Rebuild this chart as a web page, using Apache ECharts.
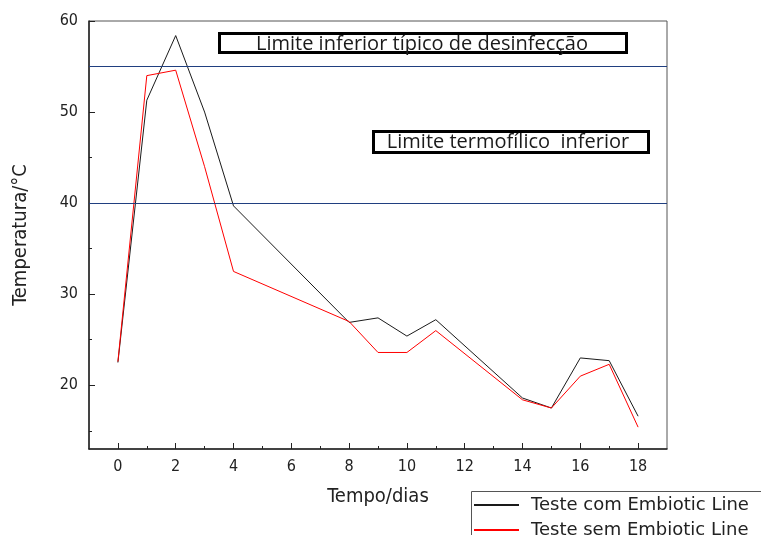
<!DOCTYPE html>
<html>
<head>
<meta charset="utf-8">
<title>Temperatura</title>
<script src="https://cdn.jsdelivr.net/npm/echarts@6/dist/echarts.min.js"></script>
<style>
  html, body { margin: 0; padding: 0; background: #fff; }
  #chart { width: 761px; height: 535px; }
</style>
</head>
<body>
<div id="chart"></div>
<script>
const chart = echarts.init(document.getElementById('chart'))

// dias de medição
const dias = [0, 1, 2, 3, 4, 8, 9, 10, 11, 14, 15, 16, 17, 18]
// temperaturas (°C)
const comEmbiotic = [22.5, 51.3, 58.4, 50.0, 39.7, 26.9, 27.4, 25.4, 27.2, 18.6, 17.5, 23.0, 22.7, 16.6]
const semEmbiotic = [22.6, 54.0, 54.6, 44.0, 32.5, 27.0, 23.6, 23.6, 26.0, 18.4, 17.5, 21.0, 22.3, 15.4]

const serieNames = ['Teste com Embiotic Line', 'Teste sem Embiotic Line']
const limites = [55, 40]
const limiteTextos = ['Limite inferior típico de desinfecção', 'Limite termofílico  inferior']

const xMajor = [0, 2, 4, 6, 8, 10, 12, 14, 16, 18]
const xMinor = [1, 3, 5, 7, 9, 11, 13, 15, 17]
const yMajor = [20, 30, 40, 50, 60]
const yMinor = [15, 25, 35, 45, 55]

const tickFont = { fontFamily: 'DejaVu Sans Condensed', fontSize: 16, color: '#222' }
const nameFont = { fontFamily: 'DejaVu Sans Condensed', fontSize: 20, color: '#222' }
const limiteCor = '#203f80'

const pairs = (vals) => dias.map((d, i) => [d, vals[i]])

// uma legenda por série (empilhadas à mão, a caixa passa da borda da imagem)
const legendBase = {
  orient: 'vertical',
  left: 473,
  padding: 0,
  itemGap: 0,
  itemWidth: 45,
  itemHeight: 12,
  itemStyle: { opacity: 0 },
  textStyle: {
    fontFamily: 'DejaVu Sans', fontSize: 18, color: '#222',
    lineHeight: 14, padding: [0, 0, 0, 7],
  },
}

const option = {
  backgroundColor: '#fff',
  animation: false,
  grid: {
    left: 89, right: 94, top: 21, bottom: 86,
    show: true, borderColor: '#555', borderWidth: 1,
    outerBoundsMode: 'none',
  },
  legend: [
    { ...legendBase, top: 496, data: [serieNames[0]] },
    { ...legendBase, top: 521, data: [serieNames[1]] },
  ],
  xAxis: [
    {
      type: 'value', min: -1, max: 19, position: 'bottom',
      name: 'Tempo/dias', nameLocation: 'middle', nameGap: 38,
      nameTextStyle: nameFont,
      axisLine: { show: true, onZero: false, lineStyle: { color: '#222', width: 1.5 } },
      axisTick: { show: true, inside: true, length: 6, customValues: xMajor, lineStyle: { color: '#222' } },
      axisLabel: { customValues: xMajor, margin: 10, ...tickFont },
      splitLine: { show: false },
    },
    {
      type: 'value', min: -1, max: 19, position: 'bottom',
      axisLine: { show: false, onZero: false },
      axisTick: { show: true, inside: true, length: 3, customValues: xMinor, lineStyle: { color: '#222' } },
      axisLabel: { show: false },
      splitLine: { show: false },
    },
  ],
  yAxis: [
    {
      type: 'value', min: 13, max: 60, position: 'left',
      name: 'Temperatura/°C', nameLocation: 'middle', nameGap: 58, nameRotate: 90,
      nameTextStyle: nameFont,
      axisLine: { show: true, onZero: false, lineStyle: { color: '#222', width: 1.5 } },
      axisTick: { show: true, inside: true, length: 6, customValues: yMajor, lineStyle: { color: '#222' } },
      axisLabel: { customValues: yMajor, margin: 11, ...tickFont },
      splitLine: { show: false },
    },
    {
      type: 'value', min: 13, max: 60, position: 'left',
      axisLine: { show: false, onZero: false },
      axisTick: { show: true, inside: true, length: 3, customValues: yMinor, lineStyle: { color: '#222' } },
      axisLabel: { show: false },
      splitLine: { show: false },
    },
  ],
  series: [
    {
      name: serieNames[0],
      type: 'line',
      data: pairs(comEmbiotic),
      symbol: 'none',
      lineStyle: { color: '#1a1a1a', width: 1 },
      itemStyle: { color: '#1a1a1a' },
      markLine: {
        silent: true,
        symbol: ['none', 'none'],
        label: { show: false },
        lineStyle: { color: limiteCor, type: 'solid', width: 1, opacity: 1 },
        data: limites.map((v) => ({
          yAxis: v,
          lineStyle: { color: limiteCor, width: 1 },
        })),
      },
    },
    {
      name: serieNames[1],
      type: 'line',
      data: pairs(semEmbiotic),
      symbol: 'none',
      lineStyle: { color: '#ff0000', width: 1 },
      itemStyle: { color: '#ff0000' },
    },
  ],
  graphic: [
    {
      type: 'rect', shape: { x: 219.5, y: 33.5, width: 407, height: 19 },
      style: { fill: '#fff', stroke: '#000', lineWidth: 3 },
    },
    {
      type: 'text', x: 422, y: 44,
      style: {
        text: limiteTextos[0], font: '20px "Open Sans"', fill: '#1a1a1a',
        align: 'center', verticalAlign: 'middle',
      },
    },
    {
      type: 'rect', shape: { x: 373.5, y: 131.5, width: 275, height: 21 },
      style: { fill: '#fff', stroke: '#000', lineWidth: 3 },
    },
    {
      type: 'text', x: 508, y: 142.5,
      style: {
        text: limiteTextos[1], font: '20px "Open Sans"', fill: '#1a1a1a',
        align: 'center', verticalAlign: 'middle',
      },
    },
    {
      type: 'rect', shape: { x: 471.5, y: 491.5, width: 300, height: 60 },
      style: { fill: 'none', stroke: '#555', lineWidth: 1 },
    },
  ],
}

chart.setOption(option)
</script>
</body>
</html>
